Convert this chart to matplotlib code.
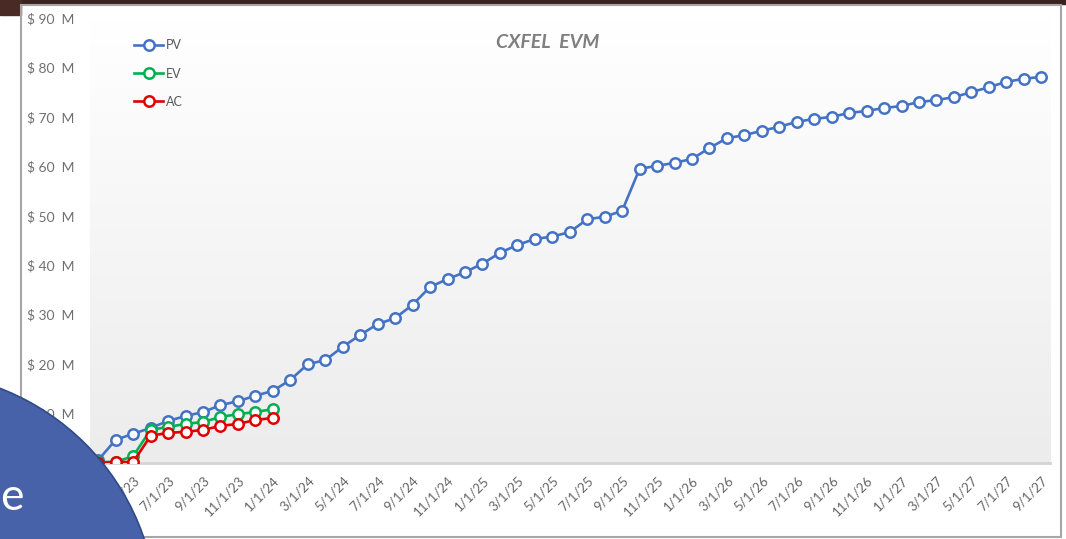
import numpy as np
import pandas as pd
import matplotlib
matplotlib.use('Agg')
import matplotlib.pyplot as plt
from matplotlib.patches import Circle, Rectangle
from matplotlib.transforms import IdentityTransform
from matplotlib.colors import LinearSegmentedColormap

plt.rcParams['font.family'] = ['Lato', 'DejaVu Sans']

# 数据: 每月一个点, 2023年3月到2027年9月
months = pd.date_range('2023-03-01', '2027-09-01', freq='MS')
month_labels = [f'{d.month}/1/{d.year % 100}' for d in months]

pv = [0.6, 4.7, 5.9, 7.1, 8.5, 9.5, 10.3, 11.7, 12.5, 13.6, 14.6,
      16.8, 20.0, 20.8, 23.5, 25.9, 28.1, 29.3, 32.0, 35.6, 37.2, 38.6,
      40.3, 42.5, 44.1, 45.3, 45.8, 46.7, 49.3, 49.8, 51.0, 59.5, 60.1,
      60.7, 61.5, 63.7, 65.7, 66.3, 67.2, 68.0, 69.0, 69.6, 70.0, 70.8,
      71.2, 71.8, 72.2, 73.0, 73.4, 74.0, 75.0, 76.0, 77.1, 77.7, 78.1]
ev = [0.2, 0.2, 1.4, 6.7, 7.3, 7.9, 8.3, 9.3, 9.9, 10.3, 10.9]
ac = [0.0, 0.2, 0.2, 5.5, 6.1, 6.3, 6.7, 7.5, 7.9, 8.7, 9.1]
y_ticks = [0, 10, 20, 30, 40, 50, 60, 70, 80, 90]

W, H = 1066, 539
fig = plt.figure(figsize=(W / 100, H / 100), dpi=100)
fig.patch.set_facecolor('white')

# 外框和顶部深色背景
fig.patches.append(Rectangle((0, H - 4), W, 4, transform=IdentityTransform(),
                             color='#3b2320', zorder=0))
fig.patches.append(Rectangle((0, H - 15), 21, 15, transform=IdentityTransform(),
                             color='#4a2a24', zorder=0))
fig.patches.append(Rectangle((21, 2), 1040, H - 7, transform=IdentityTransform(),
                             fill=False, edgecolor='#a6a6a6', lw=1.5, zorder=1))

ax = fig.add_axes([89.5 / W, 76 / H, 960.5 / W, 445 / H])
x = np.arange(len(months))

# 绘图区渐变背景
cmap = LinearSegmentedColormap.from_list('g', ['#ffffff', '#ececec'])
ax.imshow(np.linspace(0, 1, 200).reshape(-1, 1), extent=[-0.5, 54.5, 0, 90],
          aspect='auto', cmap=cmap, origin='upper', zorder=0)

ax.plot(x, pv, color='#4472c4', lw=1.9, marker='o', ms=7.5, mfc='white',
        mew=1.8, label='PV', zorder=3)
ax.plot(x[:len(ev)], ev, color='#00b050', lw=1.9, marker='o', ms=7.5,
        mfc='white', mew=1.8, label='EV', zorder=4)
ax.plot(x[:len(ac)], ac, color='#e00000', lw=1.9, marker='o', ms=7.5,
        mfc='white', mew=1.8, label='AC', zorder=5)

ax.set_xlim(-0.5, 54.5)
ax.set_ylim(0, 90)
ax.set_yticks(y_ticks)
ax.set_yticklabels([f'$ {v}  M' for v in y_ticks])
ax.set_xticks(x[::2])
ax.set_xticklabels(month_labels[::2], rotation=45, ha='right',
                   rotation_mode='anchor')
ax.tick_params(axis='y', length=0, pad=11, labelsize=10, labelcolor='#707070')
ax.tick_params(axis='x', length=0, pad=8, labelsize=9.5, labelcolor='#666666')
for s in ['top', 'right', 'left']:
    ax.spines[s].set_visible(False)
ax.spines['bottom'].set_color('#d4d4d4')
ax.spines['bottom'].set_linewidth(2)

leg = ax.legend(loc='upper left', bbox_to_anchor=(0.035, 0.9775), frameon=False,
                fontsize=9, handlelength=2.3, handletextpad=0.2,
                labelspacing=1.3, labelcolor='#595959')

fig.text(548 / W, 1 - 43 / H, 'CXFEL  EVM', ha='center', va='center',
         fontsize=14, fontweight='bold', fontstyle='italic', color='#7f7f7f')

# 左下角的蓝色圆形遮挡
fig.patches.append(Circle((-88, H - 617), 245, transform=IdentityTransform(),
                          facecolor='#4762a8', edgecolor='#2f4a88', lw=1.2,
                          zorder=10))
fig.text(0, (H - 510) / H, 'e', ha='left', va='baseline',
         fontsize=32, color='white', zorder=11)

fig.savefig('out.png', dpi=100)
